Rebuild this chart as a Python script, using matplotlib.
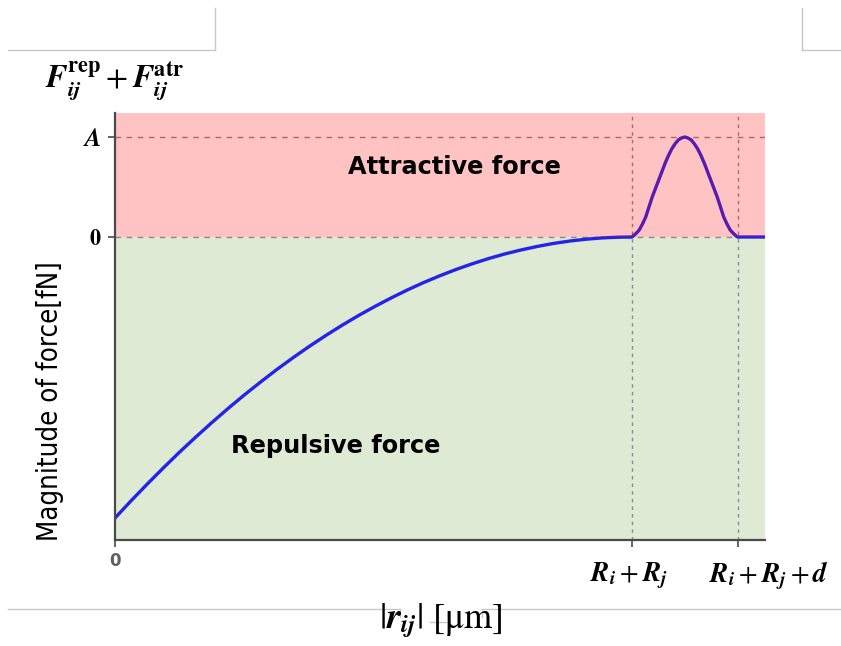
import numpy as np
import matplotlib.pyplot as plt
from matplotlib.transforms import blended_transform_factory

plt.rcParams['mathtext.fontset'] = 'stix'

# distance between cell centres (arbitrary units) and net force
r_vals = [0.0, 0.25, 0.5, 0.75, 1.0, 1.25, 1.5, 1.75, 2.0, 2.25, 2.5, 2.75, 3.0, 3.25, 3.5,
          3.75, 4.0, 4.25, 4.5, 4.75, 5.0, 5.25, 5.5, 5.75, 6.0, 6.25, 6.5, 6.75, 7.0, 7.25,
          7.5, 7.75, 7.95,
          7.965, 8.015, 8.065, 8.115, 8.165, 8.215, 8.265, 8.315, 8.365, 8.415, 8.465, 8.515,
          8.565, 8.615, 8.665, 8.715, 8.765, 8.815, 8.865, 8.915, 8.965, 9.015, 9.065, 9.115,
          9.165, 9.215, 9.265, 9.315, 9.365, 9.415, 9.465, 9.515, 9.565, 9.58, 10.0]
f_vals = [-2.810, -2.636, -2.468, -2.305, -2.147, -1.996, -1.850, -1.709, -1.574, -1.445,
          -1.320, -1.202, -1.089, -0.982, -0.880, -0.784, -0.694, -0.609, -0.529, -0.455,
          -0.387, -0.324, -0.267, -0.215, -0.169, -0.129, -0.094, -0.064, -0.040, -0.022,
          -0.009, -0.002, 0.0,
          0.005, 0.035, 0.07, 0.13, 0.20, 0.30, 0.40, 0.485, 0.57, 0.655, 0.74, 0.815,
          0.88, 0.93, 0.97, 0.99, 1.0, 0.99, 0.97, 0.93, 0.88, 0.815, 0.74, 0.655,
          0.57, 0.485, 0.40, 0.30, 0.20, 0.13, 0.07, 0.035, 0.005, 0.0, 0.0]

A = 1.0
R_sum = 7.95
R_sum_d = 9.58
x_max = 10.0
y_min, y_max = -3.03, 1.24

x_tick_vals = [0, R_sum, R_sum_d]
x_tick_labels = ['0', r'$\mathbfit{R}_{\mathbfit{i}}+\mathbfit{R}_{\mathbfit{j}}$',
                 r'$\mathbfit{R}_{\mathbfit{i}}+\mathbfit{R}_{\mathbfit{j}}+\mathbfit{d}$']
y_tick_vals = [0, A]
y_tick_labels = [r'$\mathbf{0}$', r'$\mathbfit{A}$']

W, H = 841, 646
fig = plt.figure(figsize=(W / 100, H / 100), dpi=100)
ax = fig.add_axes([115 / W, 1 - 540 / H, 650 / W, 427 / H])

# background regions: repulsive (green) below, attractive (red) on top
ax.axhspan(y_min, 0, color='#dfead5', lw=0, zorder=0)
ax.plot(r_vals, f_vals, color='#2424e6', lw=2.4, zorder=2)
ax.axhspan(0, y_max, color='red', alpha=0.235, lw=0, zorder=3)

for yv in y_tick_vals:
    ax.axhline(yv, color='#8a8a8a', lw=1.0, ls=(0, (4, 4)), zorder=1)
for xv in [R_sum, R_sum_d]:
    ax.axvline(xv, color='#8a8a8a', lw=1.0, ls=(0, (2.5, 3)), zorder=1)

ax.set_xlim(0, x_max)
ax.set_ylim(y_min, y_max)
for s in ['top', 'right']:
    ax.spines[s].set_visible(False)
for s in ['left', 'bottom']:
    ax.spines[s].set_color('#4a4a4a')
    ax.spines[s].set_linewidth(1.6)
    ax.spines[s].set_zorder(5)

ax.set_yticks(y_tick_vals)
ax.set_yticklabels(y_tick_labels)
ax.tick_params(axis='y', length=5, width=1.2, color='#4a4a4a', pad=5)
for lab, fs in zip(ax.get_yticklabels(), [16, 18]):
    lab.set_fontsize(fs)
ax.set_xticks(x_tick_vals)
ax.set_xticklabels([])
ax.tick_params(axis='x', length=5, width=1.2, color='#4a4a4a')

tr = blended_transform_factory(ax.transData, ax.transAxes)
ax.text(x_tick_vals[0], -0.05, x_tick_labels[0], transform=tr, ha='center', va='center',
        fontsize=12, fontweight='bold', color='#606060', family='DejaVu Sans')
# the two distance labels sit slightly right of their ticks
ax.text(7.91, -0.085, x_tick_labels[1], transform=tr, ha='center', va='center', fontsize=19.5)
ax.text(10.06, -0.085, x_tick_labels[2], transform=tr, ha='center', va='center', fontsize=19.5,
        clip_on=False)

ax.text(5.215, 0.63, 'Attractive force', ha='center', va='baseline', fontsize=17.3,
        fontweight='bold', family='DejaVu Sans', zorder=6)
ax.text(3.40, -2.16, 'Repulsive force', ha='center', va='baseline', fontsize=17.3,
        fontweight='bold', family='DejaVu Sans', zorder=6)

fig.text(45 / W, 1 - 87 / H,
         r'$\mathbfit{F}_{\mathbfit{ij}}^{\mathbf{rep}}+\mathbfit{F}_{\mathbfit{ij}}^{\mathbf{atr}}$',
         ha='left', va='baseline', fontsize=23)
fig.text(50 / W, 1 - 401 / H, 'Magnitude of force[fN]', rotation=90, ha='center', va='center',
         fontsize=19.8, family='DejaVu Sans', fontstretch='condensed')
fig.text(441 / W, 1 - 628 / H, r'$|\mathbfit{r}_{\mathbfit{ij}}|\ \mathrm{[\mu m]}$',
         ha='center', va='baseline', fontsize=26, zorder=3)

# thin page rules around the figure
rule = dict(color='#c8c8c8', lw=1.0, transform=fig.transFigure, zorder=0)
def seg(x0, y0, x1, y1):
    fig.add_artist(plt.Line2D([x0 / W, x1 / W], [1 - y0 / H, 1 - y1 / H], **rule))
seg(8, 50, 215, 50)
seg(215, 8, 215, 50)
seg(802, 8, 802, 50)
seg(802, 50, 841, 50)
seg(8, 609, 400, 609)
seg(400, 609, 400, 617)
seg(430, 622, 446, 622)
seg(482, 609, 482, 617)
seg(482, 609, 841, 609)

fig.savefig('out.png', dpi=100)
